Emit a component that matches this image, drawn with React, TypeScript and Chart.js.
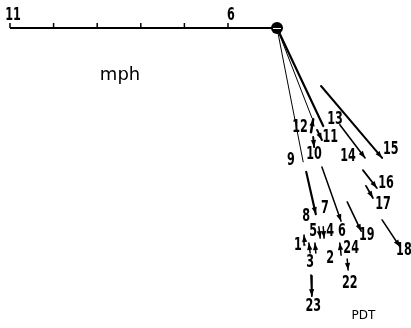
import React, { useEffect, useRef } from "react";
import { Chart, registerables } from "chart.js";

Chart.register(...registerables);

// Scale: mph, origin of vectors at (0,0); u east, v north
const X_MIN = -6.353;
const X_MAX = 3.073;
const Y_MIN = -6.881;
const Y_MAX = 0.642;

// ruler
const rulerValues = [11, 10, 9, 8, 7, 6];
const rulerLabels = ["11", "6"];
const rulerZero = 4.876; // ruler reading at the vector origin
const rulerLabelV = 0.28;

// vector segments (mph)
const segTailU = [0, 0.67, 0, 0, 1.01, 1.44, 0.78, 0.92, 0.83, 1.03, 1.61, 1.97, 2.04, 2.41, 0.64, 0.96, 1.06, 0.76, 0.89, 1.47, 1.61, 0.78];
const segTailV = [0, -3.3, 0, 0, -1.33, -2.22, -2.39, -2.34, -2.5, -3.19, -3.99, -3.26, -3.62, -4.4, -4.98, -4.56, -4.56, -5.16, -5.16, -5.21, -5.3, -5.67];
const segHeadU = [0.6, 0.89, 0.8, 1.06, 2.41, 2.02, 0.83, 1.03, 0.85, 1.47, 1.93, 2.29, 2.2, 2.82, 0.62, 0.99, 1.08, 0.73, 0.87, 1.44, 1.63, 0.8];
const segHeadV = [-3.07, -4.27, -2.06, -2.25, -2.98, -2.98, -2.09, -2.57, -2.73, -4.43, -4.66, -3.67, -3.9, -5.02, -4.75, -4.82, -4.82, -4.93, -4.93, -4.93, -5.55, -6.15];
const segWidth = [1, 2.2, 1, 2.2, 2, 1.6, 2.5, 2, 2, 1.5, 1.6, 1.8, 1.8, 1.6, 1.5, 1.5, 1.5, 1.5, 1.5, 1.5, 1.5, 1.8];
const segArrow = [false, true, false, false, true, true, true, true, true, true, true, true, true, true, true, true, true, true, true, true, true, true];

// hour labels
const hourLabels = ["12", "13", "11", "9", "10", "14", "15", "16", "17", "7", "8", "6", "19", "18", "5", "4", "1", "3", "2", "24", "22", "23"];
const labelU = [0.53, 1.33, 1.22, 0.32, 0.85, 1.63, 2.61, 2.5, 2.43, 1.1, 0.67, 1.49, 2.06, 2.91, 0.83, 1.22, 0.48, 0.76, 1.22, 1.7, 1.67, 0.83];
const labelV = [-2.29, -2.09, -2.52, -3.05, -2.91, -2.96, -2.8, -3.56, -4.06, -4.15, -4.33, -4.68, -4.77, -5.11, -4.68, -4.66, -5.0, -5.37, -5.3, -5.07, -5.87, -6.38];

const unitText = "mph";
const unitU = -3.6;
const unitV = -1.08;
const zoneText = "PDT";
const zoneU = 1.98;
const zoneV = -6.61;

const NUM_FONT = 'bold 17px "DejaVu Sans", sans-serif';
const NUM_SCALE_X = 0.66;

export default function App() {
  const ref = useRef<HTMLCanvasElement | null>(null);
  useEffect(() => {
    if (!ref.current) return;
    const datasets: any[] = [];
    // ruler line
    datasets.push({
      data: [
        { x: rulerZero - rulerValues[0], y: 0 },
        { x: 0, y: 0 },
      ],
      showLine: true,
      borderColor: "#000",
      borderWidth: 2,
      pointRadius: 0,
    });
    for (let i = 0; i < segTailU.length; i++) {
      datasets.push({
        data: [
          { x: segTailU[i], y: segTailV[i] },
          { x: segHeadU[i], y: segHeadV[i] },
        ],
        showLine: true,
        borderColor: "#000",
        borderWidth: segWidth[i],
        pointRadius: 0,
        borderCapStyle: "round",
      });
    }
    // origin dot
    datasets.push({
      data: [{ x: 0, y: 0 }],
      pointRadius: 6,
      backgroundColor: "#000",
      borderColor: "#000",
      borderWidth: 0,
    });

    const drawNum = (ctx: any, t: string, x: number, y: number) => {
      ctx.save();
      ctx.translate(x, y);
      ctx.scale(NUM_SCALE_X, 1);
      ctx.fillText(t, 0, 0);
      ctx.restore();
    };

    const overlay = {
      id: "overlay",
      afterDatasetsDraw(chart: any) {
        const ctx = chart.ctx;
        const xs = chart.scales.x;
        const ys = chart.scales.y;
        ctx.save();
        // origin highlight
        const ox = xs.getPixelForValue(0);
        const oy = ys.getPixelForValue(0);
        ctx.strokeStyle = "#fff";
        ctx.lineWidth = 1;
        ctx.beginPath();
        ctx.moveTo(ox - 4, oy + 0.5);
        ctx.lineTo(ox + 4, oy + 0.5);
        ctx.stroke();
        // ruler ticks
        ctx.strokeStyle = "#000";
        ctx.lineWidth = 1.5;
        rulerValues.forEach((r) => {
          const px = xs.getPixelForValue(rulerZero - r);
          ctx.beginPath();
          ctx.moveTo(px, oy);
          ctx.lineTo(px, oy - 5);
          ctx.stroke();
        });
        ctx.fillStyle = "#000";
        ctx.font = NUM_FONT;
        ctx.textAlign = "center";
        ctx.textBaseline = "middle";
        rulerLabels.forEach((t) => {
          const px = xs.getPixelForValue(rulerZero - Number(t));
          drawNum(ctx, t, px + 3, ys.getPixelForValue(rulerLabelV));
        });
        // arrowheads
        for (let i = 0; i < segTailU.length; i++) {
          if (!segArrow[i]) continue;
          const x1 = xs.getPixelForValue(segTailU[i]);
          const y1 = ys.getPixelForValue(segTailV[i]);
          const x2 = xs.getPixelForValue(segHeadU[i]);
          const y2 = ys.getPixelForValue(segHeadV[i]);
          const a = Math.atan2(y2 - y1, x2 - x1);
          const L = 7;
          const W = 2.6;
          ctx.beginPath();
          ctx.moveTo(x2, y2);
          ctx.lineTo(x2 - L * Math.cos(a) + W * Math.sin(a), y2 - L * Math.sin(a) - W * Math.cos(a));
          ctx.lineTo(x2 - L * Math.cos(a) - W * Math.sin(a), y2 - L * Math.sin(a) + W * Math.cos(a));
          ctx.closePath();
          ctx.fill();
        }
        // hour labels
        ctx.font = NUM_FONT;
        hourLabels.forEach((t, i) => {
          drawNum(ctx, t, xs.getPixelForValue(labelU[i]), ys.getPixelForValue(labelV[i]));
        });
        ctx.font = '18px "DejaVu Sans", sans-serif';
        ctx.fillText(unitText, xs.getPixelForValue(unitU), ys.getPixelForValue(unitV));
        ctx.font = '12px "DejaVu Sans", sans-serif';
        ctx.fillText(zoneText, xs.getPixelForValue(zoneU), ys.getPixelForValue(zoneV));
        ctx.restore();
      },
    };

    const chart = new Chart(ref.current, {
      type: "scatter",
      data: { datasets },
      options: {
        animation: false,
        responsive: false,
        layout: { padding: 0, autoPadding: false },
        plugins: { legend: { display: false }, tooltip: { enabled: false } },
        scales: {
          x: { type: "linear", min: X_MIN, max: X_MAX, display: false },
          y: { type: "linear", min: Y_MIN, max: Y_MAX, display: false },
        },
      },
      plugins: [overlay],
    });
    return () => chart.destroy();
  }, []);
  return (
    <div style={{ position: "absolute", left: 0, top: 0, width: 411, height: 328, background: "#fff" }}>
      <canvas ref={ref} width={411} height={328} style={{ display: "block" }} />
    </div>
  );
}
